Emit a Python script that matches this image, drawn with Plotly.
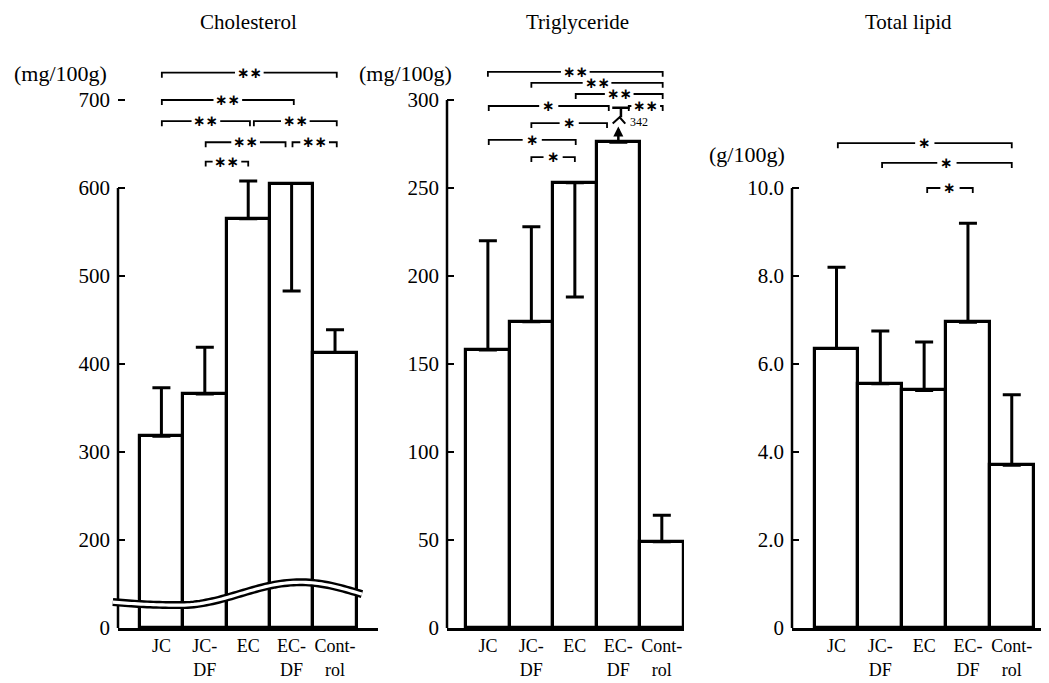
import math
import plotly.graph_objects as go

# ---------------- data ----------------
categories = ["JC", "JC-DF", "EC", "EC-DF", "Control"]
cat_ticktext = ["JC", "JC-<br>DF", "EC", "EC-<br>DF", "Cont-<br>rol"]

chol_mean = [318, 366, 565, 605, 413]
chol_sd_end = [373, 419, 608, 483, 439]          # end of the SD whisker
chol_ticks = [0, 200, 300, 400, 500, 600, 700]
chol_break = 100                                  # axis broken between 0 and 200
chol_sig = [(0.01, 4.04, 731, "**"), (0.01, 3.05, 700, "**"),
            (0.01, 2.04, 676, "**"), (2.13, 4.04, 676, "**"),
            (1.02, 2.86, 652, "**"), (3.02, 4.04, 652, "**"),
            (1.02, 2.00, 630, "**")]

tg_mean = [158, 174, 253, 276, 49]
tg_sd_end = [220, 228, 188, 342, 64]
tg_ticks = [0, 50, 100, 150, 200, 250, 300]
tg_sig = [(0.00, 4.02, 316, "**"), (1.00, 4.02, 309.7, "**"),
          (2.02, 4.02, 303.4, "**"), (0.02, 2.78, 296.6, "*"),
          (3.24, 4.02, 296.6, "**"), (1.00, 2.74, 286.9, "*"),
          (0.02, 2.02, 277.3, "*"), (1.00, 2.00, 267.6, "*")]

lipid_mean = [6.35, 5.55, 5.4, 6.95, 3.7]
lipid_sd_end = [8.2, 6.75, 6.5, 9.2, 5.3]
lipid_ticks = [0, 2, 4, 6, 8, 10]
lipid_ticktext = ["0", "2.0", "4.0", "6.0", "8.0", "10.0"]
lipid_sig = [(0.03, 4.00, 11.02, "*"), (1.04, 4.00, 10.57, "*"),
             (2.07, 3.11, 10.0, "*")]

# ---------------- layout constants ----------------
PAGE_W, PAGE_H = 1049, 683
OFF = 8                      # default body margin of the html page
W, H = PAGE_W - OFF, PAGE_H - OFF
SERIF = "Liberation Serif, Times New Roman, Times, serif"


def px_x(px):
    return (px - OFF) / W


def px_y(py):
    return 1 - (py - OFF) / H


Y_DOM = [px_y(628), px_y(60)]

panels = [
    dict(xa="x", ya="y", dom=[px_x(118), px_x(378)], xr=[-1.0, 4.99], yr=[0, 645.45],
         title="Cholesterol", tx=248, unit="(mg/100g)", ux=60, uy=73, axis_top=600),
    dict(xa="x2", ya="y2", dom=[px_x(447), px_x(684)], xr=[-0.94, 4.51], yr=[0, 322.73],
         title="Triglyceride", tx=577, unit="(mg/100g)", ux=405, uy=73, axis_top=300),
    dict(xa="x3", ya="y3", dom=[px_x(792), 1.0], xr=[-1.016, 4.85], yr=[0, 12.909],
         title="Total lipid", tx=908, unit="(g/100g)", ux=747, uy=155, axis_top=10),
]

fig = go.Figure()
shapes = []
annotations = []


def add_bars(p, mean, sd_end, offset=0.0, cap_limit=None):
    disp = [m - offset for m in mean]
    plus, minus = [], []
    for m, e in zip(mean, sd_end):
        if cap_limit is not None and e > cap_limit:
            plus.append(0)
            minus.append(0)
        else:
            plus.append(max(e - m, 0))
            minus.append(max(m - e, 0))
    fig.add_trace(go.Bar(
        x=list(range(len(categories))), y=disp, width=1.0,
        marker=dict(color="white", line=dict(color="black", width=3.2)),
        error_y=dict(type="data", symmetric=False, array=plus, arrayminus=minus,
                     color="black", thickness=3, width=9),
        customdata=categories, hovertemplate="%{customdata}<extra></extra>",
        xaxis=p["xa"], yaxis=p["ya"], showlegend=False))


def add_brackets(p, sig, offset, tick):
    for x0, x1, yv, stars in sig:
        yv = yv - offset
        xm = (x0 + x1) / 2
        g = 0.33 if len(stars) == 2 else 0.22
        for path in (f"M {x0},{yv - tick} L {x0},{yv} L {xm - g},{yv}",
                     f"M {xm + g},{yv} L {x1},{yv} L {x1},{yv - tick}"):
            shapes.append(dict(type="path", path=path, xref=p["xa"], yref=p["ya"],
                               line=dict(color="black", width=1.8)))
        annotations.append(dict(text="<b>" + "∗" * len(stars) + "</b>", x=xm, y=yv,
                                xref=p["xa"], yref=p["ya"], showarrow=False,
                                yanchor="middle", xanchor="center",
                                font=dict(family="DejaVu Sans", size=15, color="black")))


# panel 1 : cholesterol (broken axis)
p1, p2, p3 = panels
add_bars(p1, chol_mean, chol_sd_end, offset=chol_break)
add_brackets(p1, chol_sig, chol_break, 5.7)
# panel 2 : triglyceride
add_bars(p2, tg_mean, tg_sd_end, cap_limit=285)
add_brackets(p2, tg_sig, 0, 2.8)
# panel 3 : total lipid
add_bars(p3, lipid_mean, lipid_sd_end)
add_brackets(p3, lipid_sig, 0, 0.114)

# broken whisker for the off-scale SD in panel 2
for i, (m, e) in enumerate(zip(tg_mean, tg_sd_end)):
    if e > 285:
        annotations.append(dict(x=i, y=285, ax=i, ay=m, xref="x2", yref="y2",
                                axref="x2", ayref="y2", text="", showarrow=True,
                                arrowhead=2, arrowsize=0.8, arrowwidth=2.5,
                                arrowcolor="black"))
        shapes.append(dict(type="path", xref="x2", yref="y2",
                           path=f"M {i - 0.13},{286.6} L {i + 0.03},{290.2} L {i + 0.16},{286.6}",
                           line=dict(color="black", width=2)))
        shapes.append(dict(type="line", xref="x2", yref="y2", x0=i + 0.06, x1=i + 0.06,
                           y0=290.2, y1=295.6, line=dict(color="black", width=2.5)))
        shapes.append(dict(type="line", xref="x2", yref="y2", x0=i - 0.14, x1=i + 0.26,
                           y0=295.6, y1=295.6, line=dict(color="black", width=2.5)))
        annotations.append(dict(text=str(e), x=i + 0.47, y=287.5, xref="x2", yref="y2",
                                showarrow=False, font=dict(family=SERIF, size=12, color="black")))

# y-axis lines (drawn as shapes so the axis area can hold the brackets)
for p in panels:
    shapes.append(dict(type="line", xref=p["xa"] + " domain", yref=p["ya"],
                       x0=0, x1=0, y0=0,
                       y1=p["axis_top"] - (chol_break if p is p1 else 0),
                       line=dict(color="black", width=2.5), layer="below"))

# axis-break ornament on the cholesterol panel (double wavy line)
r0, r1 = p1["xr"]
pts = []
n = 80
for k in range(n + 1):
    idx = -1.12 + (4.62 + 1.12) * k / n
    if idx >= 0.43:
        yv = 39 - 13 * math.cos(math.pi * (idx - 0.43) / 2.77)
    else:
        yv = 26 + 3.5 * ((0.43 - idx) / 1.55) ** 2
    pts.append(((idx - r0) / (r1 - r0), yv))
band = "M " + " L ".join(f"{a:.4f},{b:.2f}" for a, b in pts)
shapes.append(dict(type="path", path=band, xref="x domain", yref="y",
                   line=dict(color="black", width=8)))
shapes.append(dict(type="path", path=band, xref="x domain", yref="y",
                   line=dict(color="white", width=3.2)))

# titles & units
for p in panels:
    annotations.append(dict(text=p["title"], x=px_x(p["tx"]), y=px_y(22), xref="paper",
                            yref="paper", showarrow=False, xanchor="center", yanchor="middle",
                            font=dict(family=SERIF, size=21, color="black")))
    annotations.append(dict(text=p["unit"], x=px_x(p["ux"]), y=px_y(p["uy"]), xref="paper",
                            yref="paper", showarrow=False, xanchor="center", yanchor="middle",
                            font=dict(family=SERIF, size=22, color="black")))

axis_common_x = dict(showline=True, linecolor="black", linewidth=2.5, ticks="",
                     showgrid=False, zeroline=False, tickvals=list(range(5)),
                     ticktext=cat_ticktext, tickfont=dict(family=SERIF, size=18, color="black"),
                     fixedrange=True, automargin=False)
axis_common_y = dict(showline=False, showgrid=False, zeroline=False, ticks="inside",
                     ticklen=7, tickwidth=2, tickcolor="black",
                     tickfont=dict(family=SERIF, size=21, color="black"),
                     domain=Y_DOM, fixedrange=True, ticklabelstandoff=7,
                     automargin=False)

chol_tickvals = [0 if t == 0 else t - chol_break for t in chol_ticks]

fig.update_layout(
    width=W, height=H, margin=dict(l=0, r=0, t=0, b=0, autoexpand=False),
    paper_bgcolor="white", plot_bgcolor="white", showlegend=False,
    bargap=0,
    xaxis=dict(axis_common_x, domain=p1["dom"], range=p1["xr"], anchor="y"),
    xaxis2=dict(axis_common_x, domain=p2["dom"], range=p2["xr"], anchor="y2"),
    xaxis3=dict(axis_common_x, domain=p3["dom"], range=p3["xr"], anchor="y3"),
    yaxis=dict(axis_common_y, range=p1["yr"], anchor="x", tickvals=chol_tickvals,
               ticktext=[str(t) for t in chol_ticks]),
    yaxis2=dict(axis_common_y, range=p2["yr"], anchor="x2", tickvals=tg_ticks,
                ticktext=[str(t) for t in tg_ticks]),
    yaxis3=dict(axis_common_y, range=p3["yr"], anchor="x3", tickvals=lipid_ticks,
                ticktext=lipid_ticktext),
    shapes=shapes, annotations=annotations,
)

fig.write_html("out.html")
